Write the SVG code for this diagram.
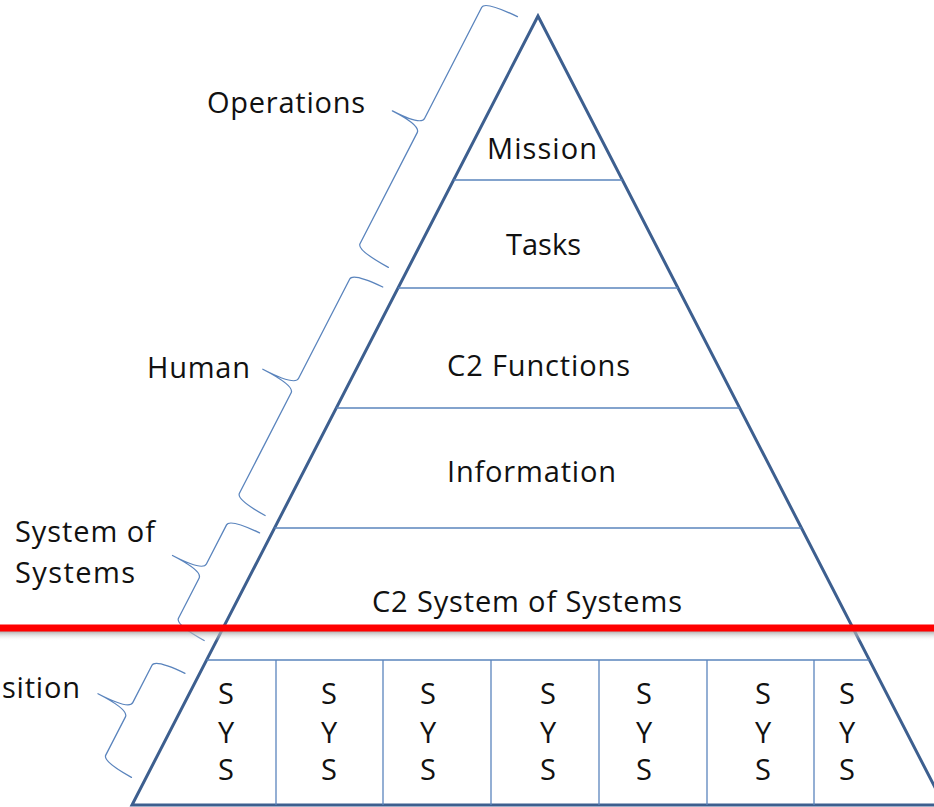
<svg xmlns="http://www.w3.org/2000/svg" width="934" height="807" viewBox="0 0 934 807">
<style>
.t{font-family:"Open Sans","Liberation Sans",sans-serif;font-size:29px;fill:#111;}
.c{text-anchor:middle;}
.edge{fill:none;stroke:#3d5f8f;stroke-width:3;stroke-linejoin:miter;}
.thin{fill:none;stroke:#5a84bd;stroke-width:1.3;}
.brace{fill:none;stroke:#5a84bd;stroke-width:1.3;stroke-linejoin:round;stroke-linecap:round;}
</style>
<defs>
<linearGradient id="shadow" x1="0" y1="0" x2="0" y2="1">
<stop offset="0" stop-color="#9a9a9a" stop-opacity="0.85"/>
<stop offset="1" stop-color="#ffffff" stop-opacity="0"/>
</linearGradient>
</defs>
<rect width="934" height="807" fill="#ffffff"/>

<g id="pyramid">
<polygon class="edge" points="538,16 132,805 944,805"/>
</g>

<g id="mission">
<line class="thin" x1="453.6" y1="180" x2="622.4" y2="180"/>
<text class="t" x="487" y="159" textLength="110">Mission</text>
</g>
<g id="tasks">
<line class="thin" x1="398" y1="288" x2="678" y2="288"/>
<text class="t" x="506" y="255" textLength="75">Tasks</text>
</g>
<g id="c2-functions">
<line class="thin" x1="336.3" y1="408" x2="739.7" y2="408"/>
<text class="t" x="447" y="376" textLength="183">C2 Functions</text>
</g>
<g id="information">
<line class="thin" x1="274.5" y1="528" x2="801.5" y2="528"/>
<text class="t" x="447" y="482" textLength="169">Information</text>
</g>
<g id="c2-sos">
<line class="thin" x1="206.6" y1="660" x2="869.4" y2="660"/>
<text class="t" x="372" y="612" textLength="310">C2 System of Systems</text>
</g>

<g id="systems">
<line class="thin" x1="276" y1="660" x2="276" y2="805"/>
<line class="thin" x1="383" y1="660" x2="383" y2="805"/>
<line class="thin" x1="491" y1="660" x2="491" y2="805"/>
<line class="thin" x1="599" y1="660" x2="599" y2="805"/>
<line class="thin" x1="707" y1="660" x2="707" y2="805"/>
<line class="thin" x1="814" y1="660" x2="814" y2="805"/>
<g class="t c">
<text x="226" y="704">S</text><text x="226" y="743">Y</text><text x="226" y="780">S</text>
<text x="329" y="704">S</text><text x="329" y="743">Y</text><text x="329" y="780">S</text>
<text x="428" y="704">S</text><text x="428" y="743">Y</text><text x="428" y="780">S</text>
<text x="548" y="704">S</text><text x="548" y="743">Y</text><text x="548" y="780">S</text>
<text x="644" y="704">S</text><text x="644" y="743">Y</text><text x="644" y="780">S</text>
<text x="763" y="704">S</text><text x="763" y="743">Y</text><text x="763" y="780">S</text>
<text x="847" y="704">S</text><text x="847" y="743">Y</text><text x="847" y="780">S</text>
</g>
</g>

<g id="connectors" transform="translate(538,16) rotate(117.24)">
<path class="brace" d="M10,18 Q11,54 18,54 L143,54 Q151,54 151,86 Q151,54 159,54 L284,54 Q291,54 292,18"/>
<path class="brace" d="M312,14 Q313,47 320,47 L432,47 Q440,47 440,83 Q440,47 448,47 L561,47 Q568,47 569,14"/>
<path class="brace" d="M587,11 Q588,44 595,44 L639,44 Q647,44 647,78 Q647,44 655,44 L700,44 Q707,44 708,11"/>
<path class="brace" d="M746,13 Q747,46 754,46 L796,46 Q804,46 804,81 Q804,46 812,46 L855,46 Q862,46 863,13"/>
</g>

<g id="label-operations">
<text class="t" x="207" y="113" textLength="158">Operations</text>
</g>
<g id="label-human">
<text class="t" x="147" y="378" textLength="103">Human</text>
</g>
<g id="label-sos">
<text class="t" x="15" y="542" textLength="140">System of</text>
<text class="t" x="15" y="583" textLength="120">Systems</text>
</g>
<g id="label-composition">
<text class="t" x="2" y="698" textLength="78">sition</text>
</g>

<g id="divider">
<rect x="0" y="631" width="934" height="10" fill="url(#shadow)"/>
<rect x="0" y="624.5" width="934" height="7" fill="#ff0000"/>
</g>
</svg>
